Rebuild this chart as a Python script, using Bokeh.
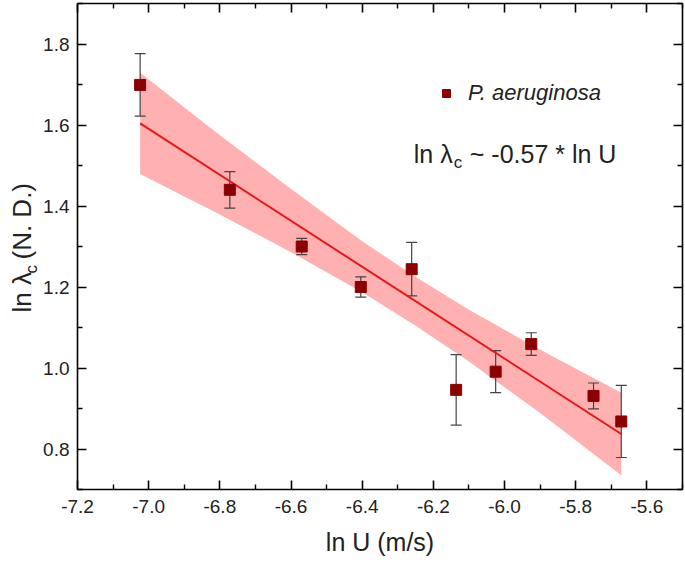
import math
from bokeh.plotting import figure
from bokeh.layouts import row
from bokeh.models import (ColumnDataSource, Range1d, LinearAxis, FixedTicker, Whisker,
                          TeeHead, Band, Label, Legend, LegendItem)
from bokeh.embed import file_html
from bokeh.resources import INLINE

# ---------------- data ----------------
ln_u = [-7.024, -6.772, -6.570, -6.404, -6.261, -6.136, -6.025, -5.925, -5.750, -5.672]
ln_lam = [1.699, 1.440, 1.300, 1.200, 1.244, 0.946, 0.991, 1.059, 0.931, 0.868]
ln_lam_err = [0.077, 0.045, 0.020, 0.025, 0.066, 0.087, 0.052, 0.028, 0.032, 0.089]

fit_x = [-7.024, -5.672]
fit_y = [1.604, 0.837]

band_x = [-7.024, -6.8, -6.6, -6.4, -6.254, -6.1, -5.9, -5.672]
band_upper = [1.729, 1.575, 1.442, 1.313, 1.227, 1.144, 1.045, 0.939]
band_lower = [1.479, 1.379, 1.286, 1.187, 1.107, 1.016, 0.889, 0.735]

x_ticks = [-7.2, -7.0, -6.8, -6.6, -6.4, -6.2, -6.0, -5.8, -5.6]
x_tick_labels = ["-7.2", "-7.0", "-6.8", "-6.6", "-6.4", "-6.2", "-6.0", "-5.8", "-5.6"]
x_minor = [-7.1, -6.9, -6.7, -6.5, -6.3, -6.1, -5.9, -5.7, -5.5]
y_ticks = [0.8, 1.0, 1.2, 1.4, 1.6, 1.8]
y_tick_labels = ["0.8", "1.0", "1.2", "1.4", "1.6", "1.8"]
y_minor = [0.7, 0.9, 1.1, 1.3, 1.5, 1.7, 1.9]

series_name = "P. aeruginosa"
fit_text = ["ln λ", "c", "~ -0.57 * ln U"]
y_title = ["ln λ", "c", "(N. D.)"]
x_title = "ln U (m/s)"

FONT = "Liberation Sans"
MARKER = "#8b0000"
FIT = "#e8161b"
BANDC = "#ffb0b0"
ERRC = "#444444"
TXT = "#222222"

W_TITLE = 40
W_TOTAL = 685
H_TOTAL = 563
B_TOP, B_BOTTOM = 3, 74

# ---------------- main figure ----------------
p = figure(width=W_TOTAL - W_TITLE, height=H_TOTAL, output_backend="svg", toolbar_location=None,
           x_range=Range1d(-7.2, -5.5), y_range=Range1d(0.7, 1.9),
           min_border_left=77 - W_TITLE, min_border_right=3, min_border_top=B_TOP,
           min_border_bottom=B_BOTTOM)
p.outline_line_color = None
p.xgrid.visible = False
p.ygrid.visible = False
p.background_fill_color = "white"
p.border_fill_color = "white"

xt = FixedTicker(ticks=x_ticks, minor_ticks=x_minor)
yt = FixedTicker(ticks=y_ticks, minor_ticks=y_minor)


def style_axis(ax, ticker, labels, ticks, show_labels):
    ax.ticker = ticker
    ax.axis_line_width = 1.6
    ax.axis_line_color = "black"
    ax.major_tick_in = 9
    ax.major_tick_out = 0
    ax.minor_tick_in = 5
    ax.minor_tick_out = 0
    ax.major_tick_line_width = 1.6
    ax.minor_tick_line_width = 1.4
    ax.major_tick_line_color = "black"
    ax.minor_tick_line_color = "black"
    if show_labels:
        ax.major_label_overrides = {t: l for t, l in zip(ticks, labels)}
        ax.major_label_text_font = FONT
        ax.major_label_text_font_size = "19px"
        ax.major_label_text_color = TXT
    else:
        ax.major_label_text_color = None
        ax.major_label_text_font_size = "1px"
        ax.major_label_standoff = 0
        ax.axis_label = None


xa = p.xaxis[0]
style_axis(xa, xt, x_tick_labels, x_ticks, True)
xa.major_label_standoff = 10
xa.axis_label = x_title
xa.axis_label_text_font = FONT
xa.axis_label_text_font_size = "25px"
xa.axis_label_text_font_style = "normal"
xa.axis_label_text_color = TXT
xa.axis_label_standoff = 12

ya = p.yaxis[0]
style_axis(ya, yt, y_tick_labels, y_ticks, True)
ya.major_label_standoff = 8

top = LinearAxis()
style_axis(top, xt, x_tick_labels, x_ticks, False)
p.add_layout(top, "above")
right = LinearAxis()
style_axis(right, yt, y_tick_labels, y_ticks, False)
p.add_layout(right, "right")

# ---------------- confidence band ----------------
band_src = ColumnDataSource(data=dict(x=band_x, lower=band_lower, upper=band_upper))
band = Band(base="x", lower="lower", upper="upper", source=band_src,
            fill_color=BANDC, fill_alpha=1.0, line_alpha=0, level="underlay")
p.add_layout(band)

# ---------------- error bars ----------------
err_src = ColumnDataSource(data=dict(
    x=ln_u, y=ln_lam,
    upper=[v + e for v, e in zip(ln_lam, ln_lam_err)],
    lower=[v - e for v, e in zip(ln_lam, ln_lam_err)]))
wh = Whisker(base="x", upper="upper", lower="lower", source=err_src,
             line_color=ERRC, line_width=1.2, level="underlay",
             upper_head=TeeHead(size=11, line_color=ERRC, line_width=1.2),
             lower_head=TeeHead(size=11, line_color=ERRC, line_width=1.2))
p.add_layout(wh)

# ---------------- fit line & points ----------------
p.line(fit_x, fit_y, line_color=FIT, line_width=2)
pts = p.scatter("x", "y", source=err_src, marker="square", size=11,
                fill_color=MARKER, line_color=MARKER)

legend = Legend(items=[LegendItem(label=series_name, renderers=[pts])],
                location=(359, 383), padding=0, spacing=0, margin=0,
                glyph_width=20, glyph_height=24, label_height=24, label_standoff=12,
                border_line_color=None, background_fill_alpha=0,
                label_text_font=FONT, label_text_font_size="22px",
                label_text_font_style="italic", label_text_color=TXT)
p.add_layout(legend, "center")

# ---------------- fit annotation ----------------
ax0, ay0 = -6.255, 1.529
offs = [0, 40, 56]
yoffs = [0, -9, 0]
sizes = ["25px", "17px", "25px"]
for t_, xo, yo, fs in zip(fit_text, offs, yoffs, sizes):
    p.add_layout(Label(x=ax0, y=ay0, x_offset=xo, y_offset=yo, text=t_,
                       text_font=FONT, text_font_size=fs, text_color=TXT,
                       text_align="left", text_baseline="alphabetic"))

# ---------------- y axis title panel (rotated text with subscript) ----------------
t = figure(width=W_TITLE, height=H_TOTAL, output_backend="svg", toolbar_location=None,
           x_range=Range1d(0, W_TITLE), y_range=p.y_range,
           x_axis_type=None, y_axis_type=None,
           min_border_left=0, min_border_right=0, min_border_top=B_TOP,
           min_border_bottom=B_BOTTOM)
t.grid.visible = False
t.outline_line_color = None
t.background_fill_color = "white"
t.border_fill_color = "white"

title_y = 1.137          # where the title text starts (data units, shared y range)
xpos = [21, 31, 21]
yoffs_t = [0, 39, 53]
ysz = ["26px", "17px", "26px"]
for txt, xx, yo, fs in zip(y_title, xpos, yoffs_t, ysz):
    t.add_layout(Label(x=xx, y=title_y, y_offset=yo, text=txt,
                       angle=math.pi / 2, text_font=FONT, text_font_size=fs,
                       text_color=TXT, text_align="left", text_baseline="alphabetic"))

layout = row(t, p, spacing=0)
open("out.html", "w").write(file_html(layout, INLINE))
